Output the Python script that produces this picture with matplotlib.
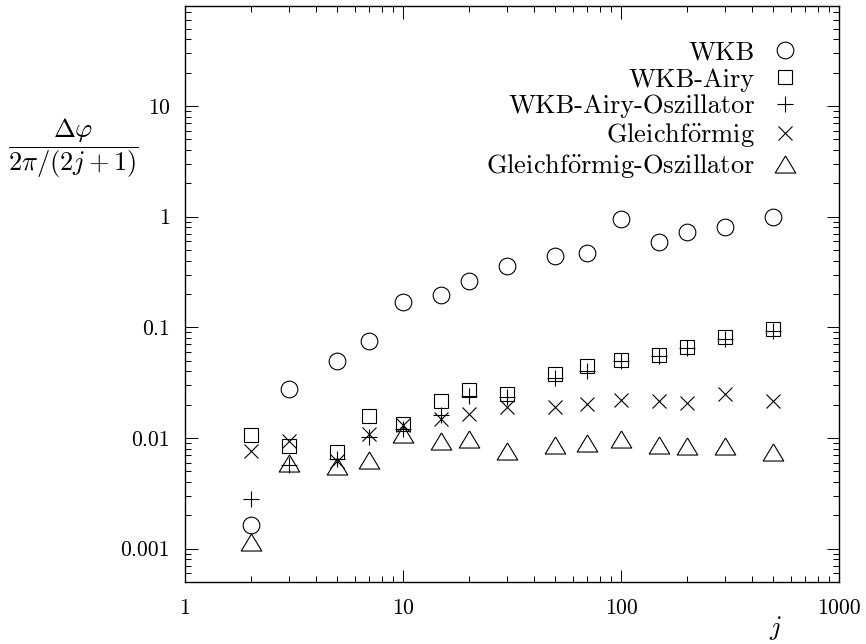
import numpy as np
import matplotlib
matplotlib.use('Agg')
import matplotlib.pyplot as plt
from matplotlib.ticker import FixedLocator, FixedFormatter, LogLocator, NullFormatter

plt.rcParams['font.family'] = ['cmr10', 'DejaVu Serif']
plt.rcParams['mathtext.fontset'] = 'cm'
plt.rcParams['axes.unicode_minus'] = False

# Drehimpulsquantenzahl j
j = [2, 3, 5, 7, 10, 15, 20, 30, 50, 70, 100, 150, 200, 300, 500]

wkb = [0.00162, 0.0279, 0.0497, 0.075, 0.168, 0.195, 0.261, 0.356, 0.437, 0.474,
       0.96, 0.587, 0.72, 0.81, 0.99]
wkb_airy = [0.0106, 0.0084, 0.0075, 0.0157, 0.0135, 0.0214, 0.0273, 0.0251, 0.0379,
            0.0443, 0.0505, 0.0566, 0.066, 0.0823, 0.0966]
wkb_airy_osz = [0.0028, 0.0057, 0.0064, 0.0103, 0.0120, 0.0162, 0.0238, 0.0234,
                0.0348, 0.040, 0.050, 0.055, 0.065, 0.079, 0.092]
gleich = [0.0076, 0.0093, 0.0062, 0.0109, 0.0130, 0.0149, 0.0166, 0.0191, 0.0191,
          0.0204, 0.0222, 0.0216, 0.0207, 0.0251, 0.0214]
gleich_osz = [0.00116, 0.0059, 0.0056, 0.0063, 0.0109, 0.0093, 0.0097, 0.0077, 0.0086,
              0.0090, 0.0097, 0.0086, 0.0085, 0.0085, 0.0075]

# cmr10 hat kein ö, daher Akzent über mathtext
oe = r'$\ddot{\mathrm{o}}$'

tri = [(0, 0.83), (-1, -0.83), (1, -0.83), (0, 0.83)]

fig = plt.figure(figsize=(8.66, 6.44), dpi=100)
ax = fig.add_axes([185 / 866, 1 - 582 / 644, 654 / 866, 576 / 644])

kw = dict(linestyle='none', color='black', markerfacecolor='none', markeredgewidth=0.8)
ax.plot(j, wkb, marker='o', markersize=12, label='WKB', **kw)
ax.plot(j, wkb_airy, marker='s', markersize=10.5, label='WKB-Airy', **kw)
ax.plot(j, wkb_airy_osz, marker='+', markersize=11, label='WKB-Airy-Oszillator', **kw)
ax.plot(j, gleich, marker='x', markersize=9.4, label='Gleichf' + oe + 'rmig', **kw)
ax.plot(j, gleich_osz, marker=tri, markersize=14.8,
        label='Gleichf' + oe + 'rmig-Oszillator', **kw)

ax.set_xscale('log')
ax.set_yscale('log')
ax.set_xlim(1, 1000)
ax.set_ylim(5e-4, 80)

ax.xaxis.set_major_locator(FixedLocator([1, 10, 100, 1000]))
ax.xaxis.set_major_formatter(FixedFormatter(['1', '10', '100', '1000']))
ax.yaxis.set_major_locator(FixedLocator([0.001, 0.01, 0.1, 1, 10]))
ax.yaxis.set_major_formatter(FixedFormatter(['0.001', '0.01', '0.1', '1', '10']))
for axis in (ax.xaxis, ax.yaxis):
    axis.set_minor_locator(LogLocator(base=10, subs=np.arange(2, 10), numticks=20))
    axis.set_minor_formatter(NullFormatter())

ax.tick_params(which='both', direction='in', top=True, right=True, width=0.7)
ax.tick_params(which='major', length=9, labelsize=15.7)
ax.tick_params(which='minor', length=4.5)
ax.tick_params(axis='x', which='major', pad=12)
ax.tick_params(axis='y', which='major', pad=11)
for sp in ax.spines.values():
    sp.set_linewidth(1.0)

ax.legend(loc='upper right', bbox_to_anchor=(798 / 866, 1 - 41 / 644),
          bbox_transform=fig.transFigure, frameon=False, markerfirst=False,
          numpoints=1, handlelength=1.0, handletextpad=0.64, borderpad=0,
          borderaxespad=0, labelspacing=0.115, fontsize=19)

fig.text(73 / 866, 1 - 148 / 644, r'$\dfrac{\Delta\varphi}{2\pi/(2j+1)}$',
         ha='center', va='center', fontsize=19)
fig.text(775 / 866, 1 - 628 / 644, r'$j$', ha='center', va='center', fontsize=19)

fig.savefig('out.png', dpi=100)
